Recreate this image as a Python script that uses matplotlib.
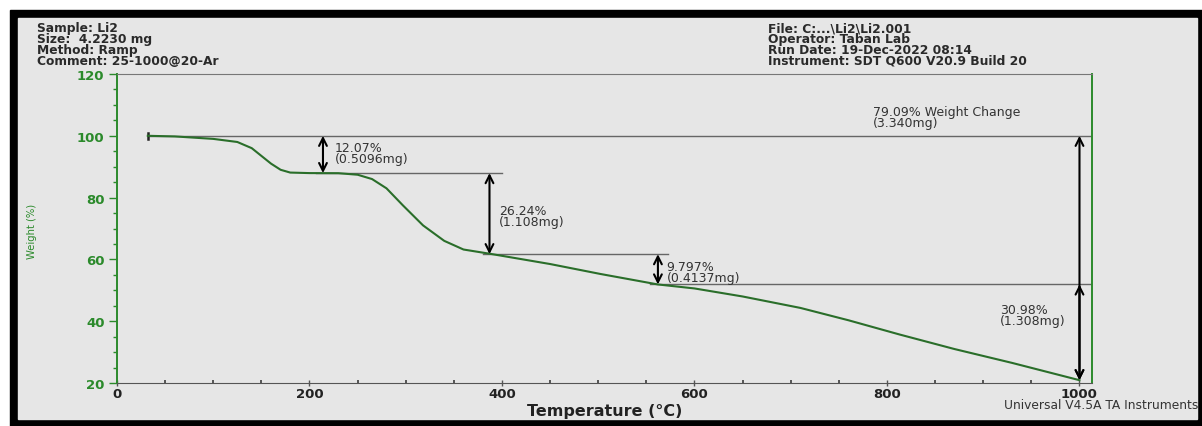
import numpy as np
import matplotlib
matplotlib.use("Agg")
import matplotlib.pyplot as plt
from matplotlib.patches import Rectangle
from matplotlib.ticker import MultipleLocator

plt.rcParams['font.family'] = ['DejaVu Sans']

# TGA curve (temperature in C, weight in %)
temp = [32, 60, 100, 125, 140, 150, 160, 170, 180, 200, 230, 250, 265, 280, 297,
        318, 340, 360, 390, 450, 502, 562, 600, 650, 710, 760, 813, 870, 930, 1000]
weight = [100.0, 99.8, 99.0, 98.0, 96.0, 93.5, 91.0, 89.0, 88.1, 87.93, 87.9, 87.4,
          86.0, 83.0, 77.5, 71.0, 66.0, 63.2, 61.69, 58.5, 55.3, 51.89, 50.6, 48.0,
          44.3, 40.3, 35.7, 31.0, 26.5, 20.91]

# step analysis: temperature of arrow, upper level, lower level, % text, mg text
step_x = [214, 387, 562, 1000]
step_top = [100.0, 87.93, 61.69, 51.89]
step_bot = [87.93, 61.69, 51.89, 20.91]
step_pct = ["12.07%", "26.24%", "9.797%", "30.98%"]
step_mg = ["(0.5096mg)", "(1.108mg)", "(0.4137mg)", "(1.308mg)"]
total_pct = "79.09% Weight Change"
total_mg = "(3.340mg)"

header_left = ["Sample: Li2", "Size:  4.2230 mg", "Method: Ramp", "Comment: 25-1000@20-Ar"]
header_right = ["File: C:...\\Li2\\Li2.001", "Operator: Taban Lab",
                "Run Date: 19-Dec-2022 08:14", "Instrument: SDT Q600 V20.9 Build 20"]

W, H = 1202, 427
GREEN = '#2b8a2b'
CURVE = '#2a6e2a'
LINE = '#666666'

fig = plt.figure(figsize=(W / 100, H / 100), dpi=100)
fig.patch.set_facecolor('white')


def px(x, y):
    return x / W, 1 - y / H


# black frame and grey panel
fig.patches.append(Rectangle(px(10, 427), (W - 10) / W, (427 - 11) / H,
                             transform=fig.transFigure, color='black', zorder=-10))
fig.patches.append(Rectangle(px(18, 420), (1197 - 18) / W, (420 - 19) / H,
                             transform=fig.transFigure, color='#e6e6e6', zorder=-9))

ax = fig.add_axes([117 / W, (H - 384) / H, (1092 - 117) / W, (384 - 75) / H])
ax.set_facecolor('none')
ax.set_xlim(0, 1013)
ax.set_ylim(20, 120)

ax.plot(temp, weight, color=CURVE, lw=1.5, zorder=3)

# horizontal level lines
ax.plot([temp[0], 1013], [100, 100], color=LINE, lw=1.0, zorder=2)
ax.plot([temp[0], temp[0]], [99.1, 100.9], color='#222222', lw=1.8, zorder=2)
ax.plot([207, 400], [87.93, 87.93], color=LINE, lw=1.0, zorder=2)
ax.plot([380, 572], [61.69, 61.69], color=LINE, lw=1.0, zorder=2)
ax.plot([554, 1013], [51.89, 51.89], color=LINE, lw=1.0, zorder=2)

# step arrows
for x, top, bot in zip(step_x, step_top, step_bot):
    ax.annotate('', xy=(x, bot), xytext=(x, top),
                arrowprops=dict(arrowstyle='<->', color='black', lw=1.5,
                                shrinkA=0, shrinkB=0, mutation_scale=14))
ax.annotate('', xy=(1000, 20.91), xytext=(1000, 100),
            arrowprops=dict(arrowstyle='<->', color='black', lw=1.5,
                            shrinkA=0, shrinkB=0, mutation_scale=14))

txt = dict(fontsize=9, color='#333333', linespacing=0.8, va='center', ha='left')
ax.text(226, 94.4, step_pct[0] + "\n" + step_mg[0], **txt)
ax.text(397, 74.2, step_pct[1] + "\n" + step_mg[1], **txt)
ax.text(571, 55.8, step_pct[2] + "\n" + step_mg[2], **txt)
ax.text(917, 42.0, step_pct[3] + "\n" + step_mg[3], **txt)
ax.text(785, 106.2, total_pct + "\n" + total_mg, **txt)

# spines and ticks
ax.spines['left'].set_color(GREEN)
ax.spines['left'].set_linewidth(1.4)
ax.spines['right'].set_color(GREEN)
ax.spines['right'].set_linewidth(1.4)
ax.spines['top'].set_color('#777777')
ax.spines['bottom'].set_color('#555555')

ax.set_xticks([0, 200, 400, 600, 800, 1000])
ax.xaxis.set_minor_locator(MultipleLocator(50))
ax.set_yticks([20, 40, 60, 80, 100, 120])
ax.yaxis.set_minor_locator(MultipleLocator(5))
ax.tick_params(axis='y', which='major', direction='out', length=6, width=1,
               colors=GREEN, labelsize=9.5, pad=3)
ax.tick_params(axis='y', which='minor', direction='out', length=3, width=1, colors=GREEN)
ax.tick_params(axis='x', which='major', direction='inout', length=4, width=1,
               colors='#555555', labelcolor='#222222', labelsize=9.5, pad=1)
ax.tick_params(axis='x', which='minor', direction='in', length=2, width=1.4, colors='#555555')
for lab in ax.get_yticklabels() + ax.get_xticklabels():
    lab.set_fontweight('bold')

ax.set_xlabel('Temperature (°C)', fontsize=11.5, fontweight='bold', color='#222222', labelpad=2)
ax.set_ylabel('Weight (%)', fontsize=7.2, color=GREEN, labelpad=0)
ax.yaxis.set_label_coords(37 / W, 1 - 231 / H, transform=fig.transFigure)

# header block, one text per column
head = dict(fontsize=8.8, fontweight='bold', color='#2a2a2a', va='center', ha='left',
            linespacing=0.78)
fig.text(*px(37, 45), "\n".join(header_left), **head)
fig.text(*px(768, 45), "\n".join(header_right), **head)
fig.text(*px(1198, 406), 'Universal V4.5A TA Instruments', fontsize=8.8, color='#333333',
         va='center', ha='right')

fig.savefig('out.png', dpi=100)
